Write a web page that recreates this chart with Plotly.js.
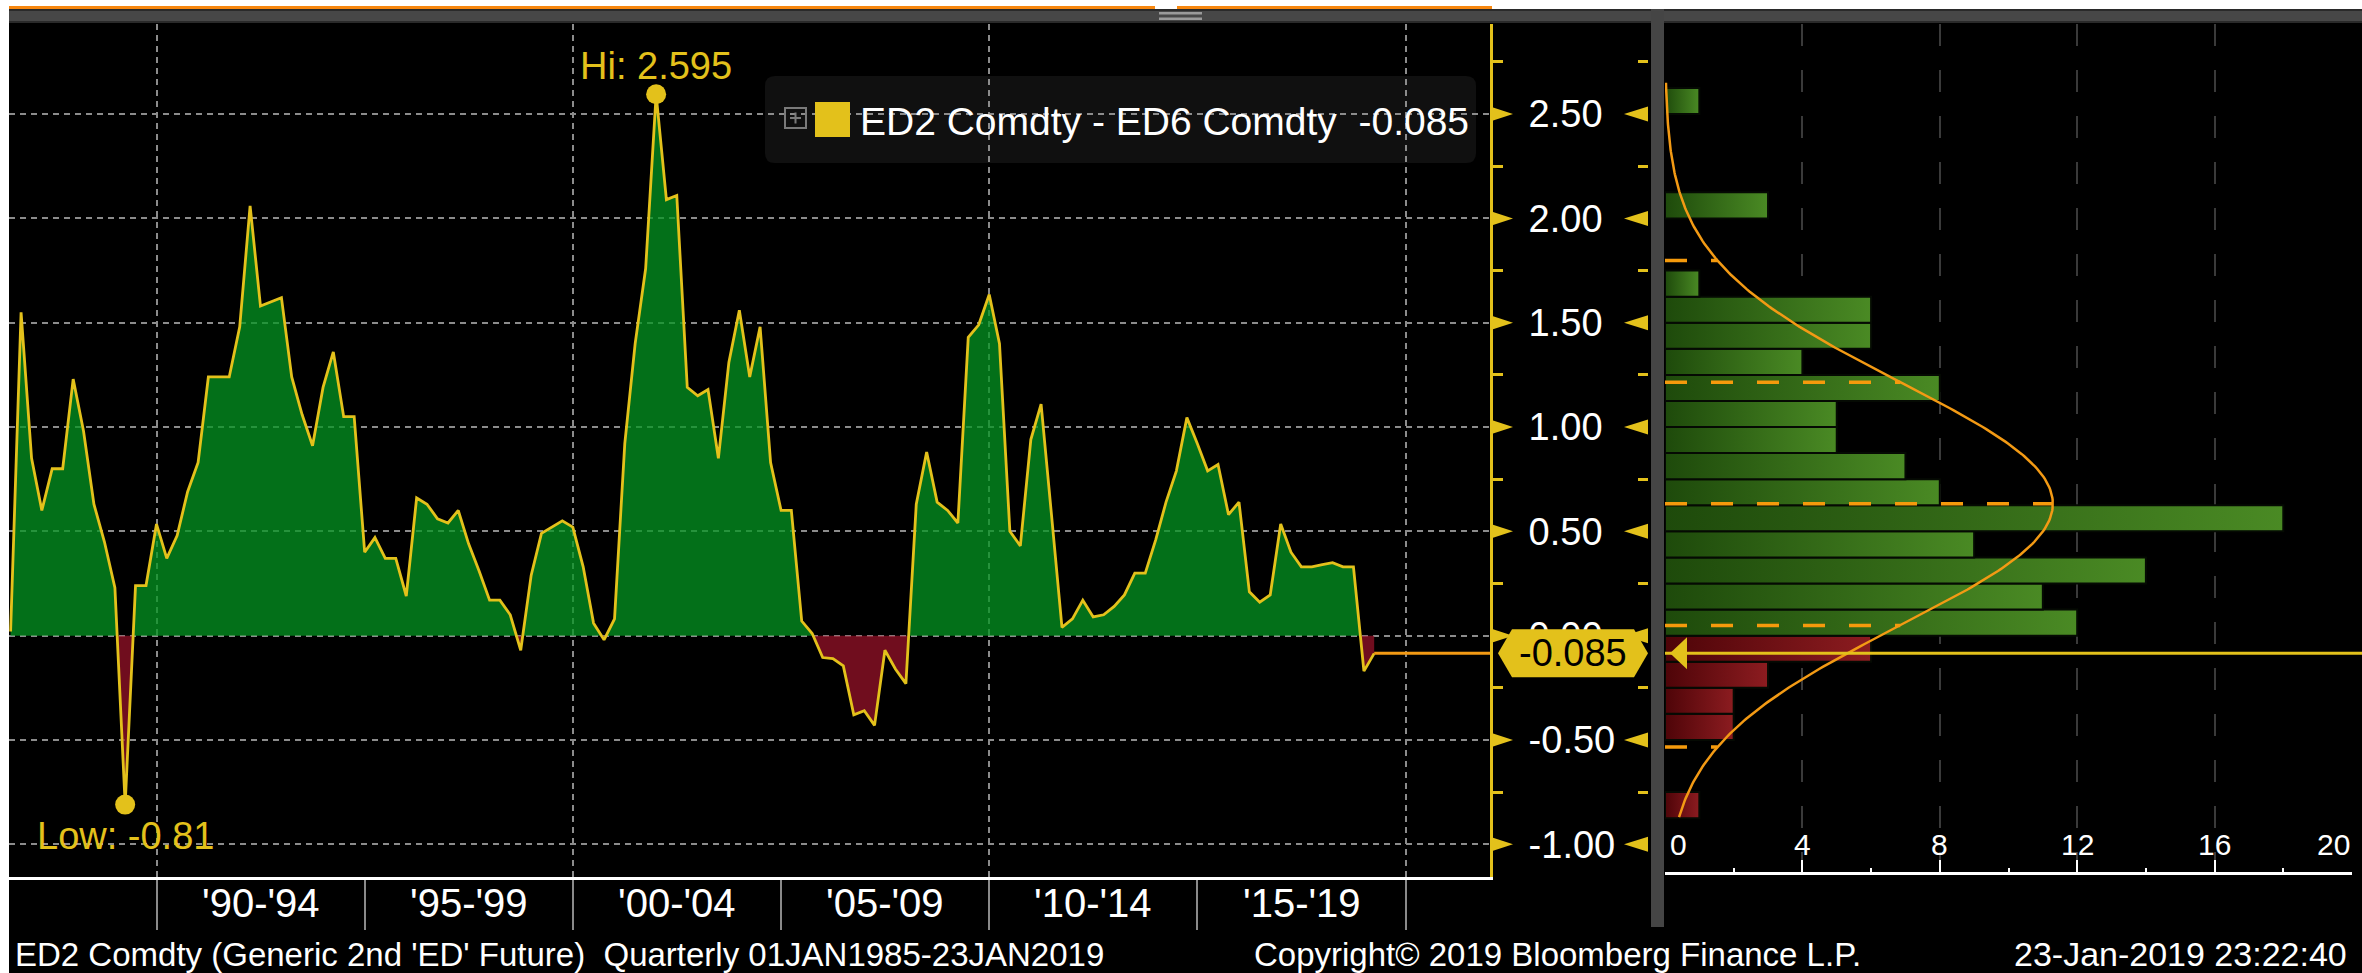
<!DOCTYPE html>
<html><head><meta charset="utf-8">
<script src="https://cdn.plot.ly/plotly-3.0.1.min.js"></script>
<style>html,body{margin:0;padding:0;background:#000;overflow:hidden}#chart{width:2362px;height:973px}</style>
</head><body><div id="chart"></div>
<script>
// ---------------- data ----------------
const seriesName = "ED2 Comdty - ED6 Comdty";
const firstQuarter = {year: 1986, quarter: 2};   // quarterly points, quarter-end dates
const spreadValues = [
  0.02, 1.55, 0.85, 0.60, 0.80, 0.80, 1.23, 0.98, 0.63, 0.45,
  0.23, -0.81, 0.24, 0.24, 0.535, 0.37, 0.48, 0.69, 0.83, 1.24,
  1.24, 1.24, 1.48, 2.06, 1.58, 1.60, 1.62, 1.24, 1.06, 0.91,
  1.19, 1.36, 1.05, 1.05, 0.40, 0.47, 0.37, 0.37, 0.19, 0.66,
  0.63, 0.56, 0.54, 0.60, 0.44, 0.31, 0.17, 0.17, 0.10, -0.07,
  0.29, 0.49, 0.52, 0.55, 0.52, 0.33, 0.06, -0.02, 0.08, 0.92,
  1.40, 1.76, 2.595, 2.09, 2.11, 1.19, 1.15, 1.18, 0.85, 1.31,
  1.56, 1.24, 1.48, 0.83, 0.60, 0.60, 0.07, 0.01, -0.105, -0.11,
  -0.145, -0.38, -0.36, -0.43, -0.07, -0.16, -0.23, 0.63, 0.88, 0.64,
  0.60, 0.54, 1.43, 1.49, 1.635, 1.40, 0.50, 0.43, 0.94, 1.11,
  0.58, 0.04, 0.08, 0.17, 0.09, 0.10, 0.14, 0.195, 0.30, 0.30,
  0.46, 0.64, 0.79, 1.045, 0.92, 0.79, 0.82, 0.58, 0.64, 0.21,
  0.16, 0.195, 0.535, 0.40, 0.33, 0.33, 0.34, 0.35, 0.33, 0.33,
  -0.17, -0.085
];
const periodLabels = ["'90-'94", "'95-'99", "'00-'04", "'05-'09", "'10-'14", "'15-'19"];
const periodStartYears = [1990, 1995, 2000, 2005, 2010, 2015];
const yTickValues = [-1, -0.5, 0, 0.5, 1, 1.5, 2, 2.5];
const yTickLabels = ["-1.00", "-0.50", "0.00", "0.50", "1.00", "1.50", "2.00", "2.50"];
const yMinorTickValues = [-0.75, -0.25, 0.25, 0.75, 1.25, 1.75, 2.25, 2.75];
const histBinStarts = [-0.875, -0.75, -0.625, -0.5, -0.375, -0.25, -0.125, 0, 0.125, 0.25,
  0.375, 0.5, 0.625, 0.75, 0.875, 1.0, 1.125, 1.25, 1.375, 1.5,
  1.625, 1.75, 1.875, 2.0, 2.125, 2.25, 2.375, 2.5];
const histCounts = [1, 0, 0, 2, 2, 3, 6, 12, 11, 14,
  9, 18, 8, 7, 5, 5, 8, 4, 6, 6,
  1, 0, 0, 3, 0, 0, 0, 1];
const histBinWidth = 0.125;
const histTicks = [0, 4, 8, 12, 16, 20];
const distMean = 0.632;
const distSd = 0.583;
const curveLow = -0.87, curveHigh = 2.65;
const footerLeft = "ED2 Comdty (Generic 2nd 'ED' Future)  Quarterly 01JAN1985-23JAN2019";
const footerMid = "Copyright\u00a9 2019 Bloomberg Finance L.P.";
const footerRight = "23-Jan-2019 23:22:40";

// ---------------- helpers / styling ----------------
const W = 2362, H = 973;
const px = v => v / W;
const py = v => 1 - v / H;
const FONT = 'Liberation Sans, Arial, sans-serif';
const YEL = '#e3c11b';
const ORANGE = '#f39a14';

const n = spreadValues.length;
const dates = spreadValues.map((_, i) => {
  const q = (firstQuarter.quarter - 1) + i;
  const year = firstQuarter.year + Math.floor(q / 4);
  return Date.UTC(year, 3 * (q % 4 + 1), 0);
});
const xRange = [Date.UTC(1986, 5, 16), Date.UTC(2022, 0, 10)];
const yRange = [-1.157, 2.932];

// zero-crossing aware fill geometry
const fx = [], fy = [];
for (let i = 0; i < n; i++) {
  if (i > 0) {
    const a = spreadValues[i - 1], b = spreadValues[i];
    if ((a > 0 && b < 0) || (a < 0 && b > 0)) {
      const t = a / (a - b);
      fx.push(dates[i - 1] + t * (dates[i] - dates[i - 1]));
      fy.push(0);
    }
  }
  fx.push(dates[i]); fy.push(spreadValues[i]);
}

let iMax = 0, iMin = 0;
spreadValues.forEach((v, i) => { if (v > spreadValues[iMax]) iMax = i; if (v < spreadValues[iMin]) iMin = i; });
const lastVal = spreadValues[n - 1];
const lastText = lastVal.toFixed(3);

const boundaries = periodStartYears.concat([periodStartYears[periodStartYears.length - 1] + 5]);
const decadeTicks = boundaries.filter(y => y % 10 === 0).map(y => Date.UTC(y, 0, 1));
const halfTicks = boundaries.filter(y => y % 10 !== 0).map(y => Date.UTC(y, 0, 1));

const traces = [];
traces.push({type: 'scatter', mode: 'lines', x: fx, y: fy.map(v => Math.max(v, 0)), fill: 'tozeroy',
  fillcolor: 'rgba(4,150,34,0.75)', line: {width: 0}, hoverinfo: 'skip', showlegend: false, xaxis: 'x', yaxis: 'y'});
traces.push({type: 'scatter', mode: 'lines', x: fx, y: fy.map(v => Math.min(v, 0)), fill: 'tozeroy',
  fillcolor: 'rgba(150,18,40,0.75)', line: {width: 0}, hoverinfo: 'skip', showlegend: false, xaxis: 'x', yaxis: 'y'});
traces.push({type: 'scatter', mode: 'lines', name: seriesName, x: dates, y: spreadValues,
  line: {color: YEL, width: 2.8}, showlegend: false, xaxis: 'x', yaxis: 'y'});
traces.push({type: 'scatter', mode: 'markers', x: [dates[iMax], dates[iMin]], y: [spreadValues[iMax], spreadValues[iMin]],
  marker: {size: 20, color: YEL}, showlegend: false, xaxis: 'x', yaxis: 'y', cliponaxis: false});

// histogram bars
histBinStarts.forEach((lo, k) => {
  const c = histCounts[k];
  if (!c) return;
  const hi = lo + histBinWidth;
  const neg = hi <= 0;
  traces.push({type: 'scatter', mode: 'lines', x: [0, c, c, 0, 0], y: [lo, lo, hi, hi, lo], fill: 'toself',
    fillcolor: neg ? 'rgb(110,16,20)' : 'rgb(50,105,22)',
    fillgradient: {type: 'horizontal', colorscale: neg ? [[0, 'rgb(78,4,8)'], [1, 'rgb(140,28,32)']] : [[0, 'rgb(30,74,11)'], [1, 'rgb(74,138,36)']]},
    line: {color: '#050a03', width: 2}, hoverinfo: 'skip', showlegend: false, xaxis: 'x2', yaxis: 'y2'});
});

// fitted normal curve
const total = histCounts.reduce((a, b) => a + b, 0);
const peak = total * histBinWidth / (distSd * Math.sqrt(2 * Math.PI));
const pdfCount = v => peak * Math.exp(-0.5 * Math.pow((v - distMean) / distSd, 2));
const cy = [], cx = [];
for (let v = curveLow; v <= curveHigh + 1e-9; v += 0.01) { cy.push(v); cx.push(pdfCount(v)); }
traces.push({type: 'scatter', mode: 'lines', x: cx, y: cy, line: {color: ORANGE, width: 2.5}, hoverinfo: 'skip', showlegend: false, xaxis: 'x2', yaxis: 'y2'});
[-2, -1, 0, 1, 2].forEach(k => {
  const v = distMean + k * distSd;
  traces.push({type: 'scatter', mode: 'lines', x: [0, pdfCount(v)], y: [v, v],
    line: {color: '#f59a0c', width: 3.5, dash: '22px,24px'}, hoverinfo: 'skip', showlegend: false, xaxis: 'x2', yaxis: 'y2'});
});

// ---------------- shapes ----------------
function roundRectPath(x0, y0, x1, y1, r) {
  const X = v => px(v), Y = v => py(v);
  return `M${X(x0 + r)},${Y(y0)} L${X(x1 - r)},${Y(y0)} Q${X(x1)},${Y(y0)} ${X(x1)},${Y(y0 + r)} ` +
    `L${X(x1)},${Y(y1 - r)} Q${X(x1)},${Y(y1)} ${X(x1 - r)},${Y(y1)} L${X(x0 + r)},${Y(y1)} ` +
    `Q${X(x0)},${Y(y1)} ${X(x0)},${Y(y1 - r)} L${X(x0)},${Y(y0 + r)} Q${X(x0)},${Y(y0)} ${X(x0 + r)},${Y(y0)} Z`;
}
const rectPx = (x0, y0, x1, y1, color, layer) => ({type: 'rect', xref: 'paper', yref: 'paper',
  x0: px(x0), x1: px(x1), y0: py(y1), y1: py(y0), fillcolor: color, line: {width: 0}, layer: layer || 'above'});

const shapes = [
  rectPx(0, 0, W, 6, '#ffffff'),
  rectPx(0, 0, 9, H, '#ffffff'),
  rectPx(9, 6, 1155, 9, '#f7870f'),
  rectPx(1155, 6, 1177, 9, '#ffffff'),
  rectPx(1177, 6, 1492, 9, '#f7870f'),
  rectPx(1492, 0, W, 9, '#ffffff'),
  rectPx(9, 9, W, 23, '#474747'),
  rectPx(9, 9, W, 11, '#2a2a2a'),
  rectPx(9, 21, W, 23, '#2a2a2a'),
  rectPx(1159, 12, 1202, 14.5, '#9a9a9a'),
  rectPx(1159, 17.5, 1202, 20, '#9a9a9a'),
  rectPx(1651, 9, 1664, 927, '#454545'),
  {type: 'path', xref: 'paper', yref: 'paper', path: roundRectPath(765, 76, 1476, 163, 10), fillcolor: '#101010', line: {width: 0}, layer: 'below'},
  rectPx(815, 102, 850, 137, YEL),
  {type: 'rect', xref: 'paper', yref: 'paper', x0: px(785), x1: px(806), y0: py(128), y1: py(108), line: {color: '#7a7a7a', width: 2}, fillcolor: 'rgba(0,0,0,0)', layer: 'above'},
  {type: 'line', xref: 'paper', yref: 'paper', x0: px(790), x1: px(801), y0: py(118), y1: py(118), line: {color: '#7a7a7a', width: 2}, layer: 'above'},
  {type: 'line', xref: 'paper', yref: 'paper', x0: px(795.5), x1: px(795.5), y0: py(112.5), y1: py(123.5), line: {color: '#7a7a7a', width: 2}, layer: 'above'},
];
// axis triangles at the major ticks
yTickValues.forEach(v => {
  shapes.push({type: 'path', xref: 'paper', yref: 'y', xsizemode: 'pixel', ysizemode: 'pixel', xanchor: px(1490), yanchor: v,
    path: 'M0,-7.5 L23,0 L0,7.5 Z', fillcolor: YEL, line: {width: 0}, layer: 'above'});
  shapes.push({type: 'path', xref: 'paper', yref: 'y', xsizemode: 'pixel', ysizemode: 'pixel', xanchor: px(1648), yanchor: v,
    path: 'M0,-7.5 L-24,0 L0,7.5 Z', fillcolor: YEL, line: {width: 0}, layer: 'above'});
});
// last value markers
shapes.push({type: 'line', xref: 'x', yref: 'y', x0: dates[n - 1], x1: xRange[1], y0: lastVal, y1: lastVal, line: {color: ORANGE, width: 3}, layer: 'above'});
shapes.push({type: 'line', xref: 'paper', yref: 'y', x0: px(1665), x1: 1, y0: lastVal, y1: lastVal, line: {color: YEL, width: 3}, layer: 'above'});
shapes.push({type: 'path', xref: 'paper', yref: 'y', xsizemode: 'pixel', ysizemode: 'pixel', xanchor: px(1665), yanchor: lastVal,
  path: 'M5,0 L22,16 L22,-16 Z', fillcolor: YEL, line: {width: 0}, layer: 'above'});
shapes.push({type: 'path', xref: 'paper', yref: 'y', xsizemode: 'pixel', ysizemode: 'pixel', xanchor: px(1498), yanchor: lastVal,
  path: 'M0,0 L14,24 L136,24 L150,0 L136,-24 L14,-24 Z', fillcolor: YEL, line: {width: 0}, layer: 'above'});

// ---------------- annotations ----------------
const ann = [];
periodLabels.forEach((t, k) => {
  const mid = (Date.UTC(periodStartYears[k], 0, 1) + Date.UTC(periodStartYears[k] + 5, 0, 1)) / 2;
  ann.push({xref: 'x', yref: 'paper', x: mid, y: py(903), text: t, showarrow: false, xanchor: 'center', yanchor: 'middle',
    font: {family: FONT, size: 40, color: '#ffffff'}});
});
ann.push({xref: 'paper', yref: 'paper', x: px(13), y: py(954), text: footerLeft, showarrow: false, xanchor: 'left', yanchor: 'middle', font: {family: FONT, size: 33, color: '#ffffff'}});
ann.push({xref: 'paper', yref: 'paper', x: px(1252), y: py(954), text: footerMid, showarrow: false, xanchor: 'left', yanchor: 'middle', font: {family: FONT, size: 33, color: '#ffffff'}});
ann.push({xref: 'paper', yref: 'paper', x: px(2349), y: py(954), text: footerRight, showarrow: false, xanchor: 'right', yanchor: 'middle', font: {family: FONT, size: 34, color: '#ffffff'}});
ann.push({xref: 'x', yref: 'y', x: dates[iMax], y: spreadValues[iMax], yshift: 28, text: 'Hi: ' + spreadValues[iMax], showarrow: false, xanchor: 'center', yanchor: 'middle', font: {family: FONT, size: 38, color: YEL}});
ann.push({xref: 'x', yref: 'y', x: dates[iMin], y: spreadValues[iMin], yshift: -31, text: 'Low: ' + spreadValues[iMin], showarrow: false, xanchor: 'center', yanchor: 'middle', font: {family: FONT, size: 38, color: YEL}});
ann.push({xref: 'paper', yref: 'paper', x: px(858), y: py(122), text: seriesName + ' \u00a0' + lastText, showarrow: false, xanchor: 'left', yanchor: 'middle', font: {family: FONT, size: 39, color: '#ffffff'}});
ann.push({xref: 'paper', yref: 'y', x: px(1573), y: lastVal, text: lastText, showarrow: false, xanchor: 'center', yanchor: 'middle', font: {family: FONT, size: 38, color: '#000000'}});
histTicks.forEach((t, k) => {
  const first = k === 0, last = k === histTicks.length - 1;
  ann.push({xref: 'x2', yref: 'paper', x: t, y: py(844), xshift: first ? 3 : 0, text: String(t), showarrow: false,
    xanchor: first ? 'left' : (last ? 'right' : 'center'), yanchor: 'middle', font: {family: FONT, size: 30, color: '#ffffff'}});
});
const histMinor = histTicks.slice(1).map((t, k) => (t + histTicks[k]) / 2);

const layout = {
  width: W, height: H, margin: {l: 0, r: 0, t: 0, b: 0},
  paper_bgcolor: '#000000', plot_bgcolor: '#000000', showlegend: false,
  font: {family: FONT, color: '#ffffff'},
  xaxis: {type: 'date', domain: [px(9), px(1490)], range: xRange, anchor: 'y', showline: true, linecolor: '#ffffff', linewidth: 3,
    tickmode: 'array', tickvals: decadeTicks, ticks: 'outside', ticklen: 50, tickwidth: 2, tickcolor: '#8a8a8a', showticklabels: false,
    showgrid: true, gridcolor: '#8c8c8c', gridwidth: 2, griddash: '6px,5px', zeroline: false,
    minor: {tickmode: 'array', tickvals: halfTicks, ticks: 'outside', ticklen: 50, tickwidth: 2, tickcolor: '#8a8a8a', showgrid: false}},
  yaxis: {domain: [py(877), py(24)], range: yRange, side: 'right', anchor: 'x', showline: true, linecolor: YEL, linewidth: 3,
    tickmode: 'array', tickvals: yTickValues, ticktext: yTickLabels, ticks: 'outside', ticklen: 22, tickwidth: 2, tickcolor: 'rgba(0,0,0,0)',
    tickfont: {family: FONT, size: 38, color: '#ffffff'}, ticklabelstandoff: 6,
    showgrid: true, gridcolor: '#8c8c8c', gridwidth: 2, griddash: '6px,5px', zeroline: false,
    minor: {tickmode: 'array', tickvals: yMinorTickValues, ticks: 'outside', ticklen: 10, tickwidth: 3, tickcolor: YEL, showgrid: false}},
  xaxis2: {domain: [px(1665), px(2352)], range: [0, histTicks[histTicks.length - 1]], anchor: 'free', position: py(873),
    showline: true, linecolor: '#ffffff', linewidth: 3, tickmode: 'array', tickvals: histTicks, ticks: 'inside', ticklen: 12, tickwidth: 2, tickcolor: '#ffffff',
    showticklabels: false, showgrid: true, gridcolor: '#3a3a3a', gridwidth: 2, griddash: '22px,24px', zeroline: false,
    minor: {tickmode: 'array', tickvals: histMinor, ticks: 'inside', ticklen: 4, tickwidth: 2, tickcolor: '#ffffff', showgrid: false}},
  yaxis2: {domain: [py(877), py(24)], range: yRange, anchor: 'free', position: px(1648), side: 'left', showline: false, showgrid: false, zeroline: false,
    showticklabels: false, tickmode: 'array', tickvals: yTickValues, ticks: 'outside', ticklen: 10, tickcolor: 'rgba(0,0,0,0)',
    minor: {tickmode: 'array', tickvals: yMinorTickValues, ticks: 'outside', ticklen: 10, tickwidth: 3, tickcolor: YEL, showgrid: false}},
  shapes: shapes,
  annotations: ann
};

Plotly.newPlot('chart', traces, layout, {staticPlot: true, displayModeBar: false});
</script>
</body></html>
